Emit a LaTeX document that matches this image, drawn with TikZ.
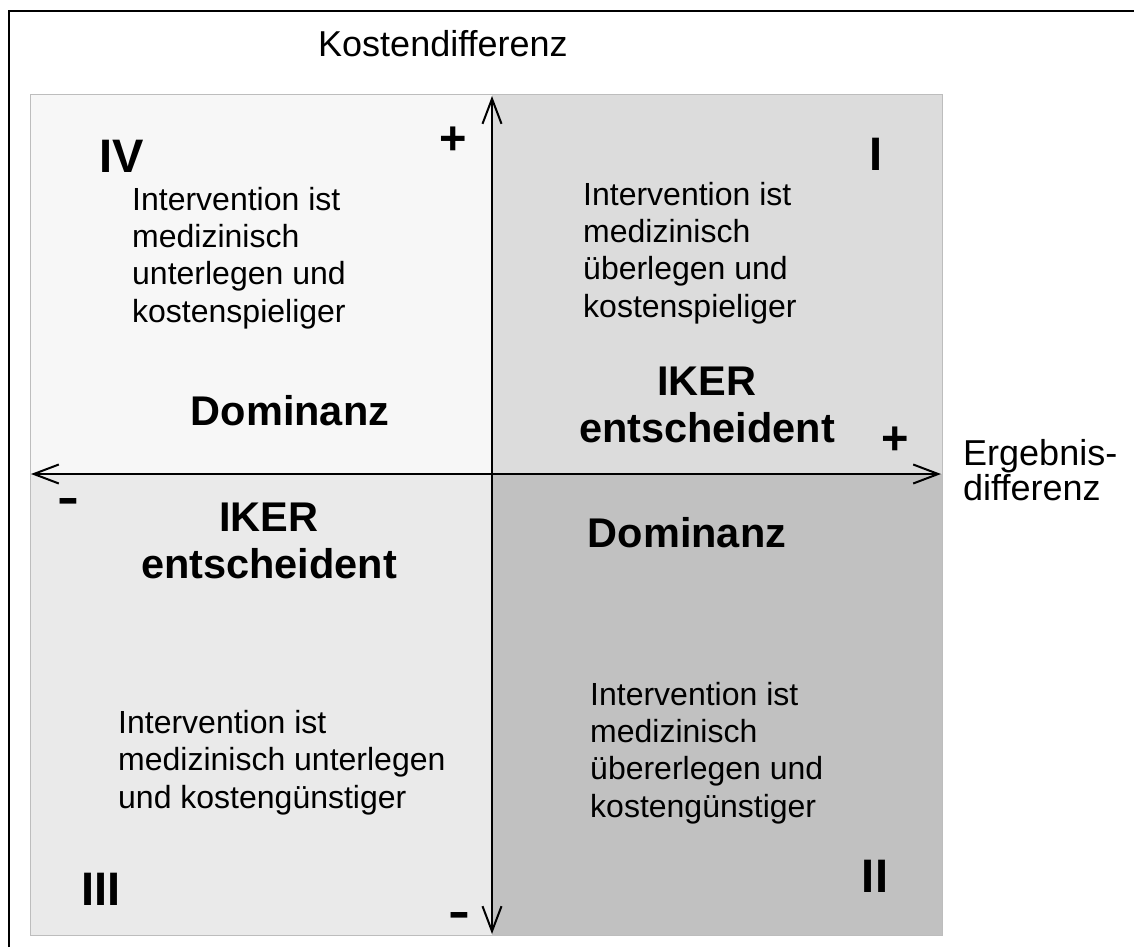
\documentclass[tikz,border=0pt]{standalone}
\usepackage{fontspec}
\setmainfont{Liberation Sans}
\usepackage{xcolor}
\usetikzlibrary{arrows.meta}
\definecolor{feldIV}{HTML}{F7F7F7}
\definecolor{feldI}{HTML}{DCDCDC}
\definecolor{feldIII}{HTML}{EAEAEA}
\definecolor{feldII}{HTML}{C1C1C1}
\definecolor{rahmengrau}{HTML}{BDBDBD}

\begin{document}
\begin{tikzpicture}[x=1pt,y=-1pt,
   achse/.style={<->,line width=2pt,>={Straight Barb[length=25pt,width=19pt]}},
   feldtext/.style={anchor=base west,align=left,inner sep=0pt,font=\fontsize{32}{37.3}\selectfont},
   urteil/.style={anchor=base,align=center,inner sep=0pt,font=\fontsize{41.5}{46.5}\selectfont\bfseries},
   nummer/.style={anchor=base,inner sep=0pt,font=\fontsize{47}{50}\selectfont\bfseries},
   achsentitel/.style={anchor=base west,align=left,inner sep=0pt,font=\fontsize{36}{33}\selectfont}]

  \useasboundingbox (0,0) rectangle (1134,947);
  \draw[line width=2.5pt] (9,947) -- (9,11) -- (1134,11);

  \fill[feldIV] (30,95) rectangle (492,474);
  \fill[feldI] (492,95) rectangle (942,474);
  \fill[feldIII] (30,474) rectangle (492,935);
  \fill[feldII] (492,474) rectangle (942,935);
  \draw[rahmengrau,line width=1pt] (30,95) rectangle (942,935);

  \coordinate (oben) at (492,96);
  \coordinate (unten) at (492,934);
  \coordinate (links) at (31,474);
  \coordinate (rechts) at (941,474);
  \foreach \von/\nach in {unten/oben,links/rechts} \draw[achse] (\von) -- (\nach);

  \node[achsentitel] (kosten) at (318,57) {Kostendifferenz};
  \node[achsentitel] (ergebnis) at (963,500) {Ergebnis-\\differenz};

  \node[nummer] (q4) at (122,172) {IV};
  \node[nummer] (q1) at (876,170) {I};
  \node[nummer] (q3) at (101,905) {III};
  \node[nummer] (q2) at (875,892) {II};
  \node[nummer] (plusoben) at (453,154) {+};
  \node[nummer] (plusrechts) at (895,454) {+};
  \node[nummer,xscale=1.4] (minuslinks) at (68,513) {-};
  \node[nummer,xscale=1.4] (minusunten) at (459,927) {-};

  \node[feldtext] (textIV) at (132,322) {Intervention ist\\medizinisch\\unterlegen und\\kostenspieliger};
  \node[feldtext] (textI) at (583,317) {Intervention ist\\medizinisch\\überlegen und\\kostenspieliger};
  \node[feldtext] (textIII) at (118,808) {Intervention ist\\medizinisch unterlegen\\und kostengünstiger};
  \node[feldtext] (textII) at (590,817) {Intervention ist\\medizinisch\\übererlegen und\\kostengünstiger};

  \node[urteil] (domIV) at (290,425) {Dominanz};
  \node[urteil] (ikerI) at (707,442) {IKER\\entscheident};
  \node[urteil] (ikerIII) at (269,578) {IKER\\entscheident};
  \node[urteil] (domII) at (687,547) {Dominanz};
\end{tikzpicture}
\end{document}
